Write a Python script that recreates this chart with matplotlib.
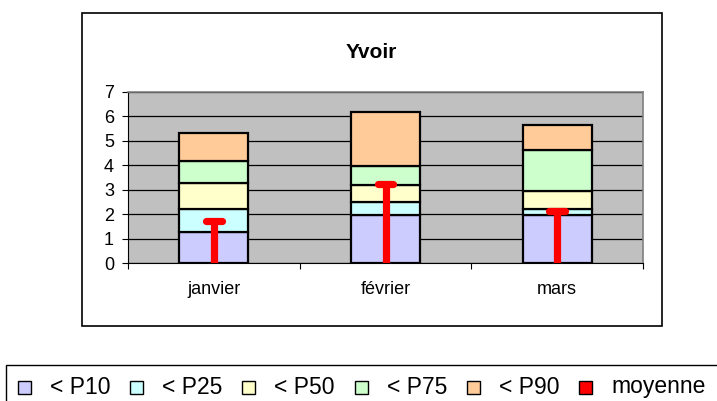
"""
Yvoir - stacked percentile bars with monthly mean
"""

import numpy as np
import matplotlib
matplotlib.use('Agg')
import matplotlib.pyplot as plt
from matplotlib.patches import Rectangle

plt.rcParams['font.family'] = ['Liberation Sans', 'DejaVu Sans']

# Data (percentile boundaries per month)
months = ['janvier', 'février', 'mars']
p10 = [1.28, 1.95, 1.97]
p25 = [2.20, 2.50, 2.23]
p50 = [3.27, 3.18, 2.96]
p75 = [4.18, 3.97, 4.63]
p90 = [5.31, 6.17, 5.64]
mean = [1.73, 3.24, 2.14]

labels = ['< P10', '< P25', '< P50', '< P75', '< P90']
colors = ['#CCCCFF', '#CCFFFF', '#FFFFCC', '#CCFFCC', '#FFCC99']

W, H = 717, 401
fig = plt.figure(figsize=(W / 100, H / 100), dpi=100)

# outer chart frame
fig.patches.append(Rectangle((82 / W, 75 / H), 580 / W, 313 / H,
                             transform=fig.transFigure, fill=False,
                             edgecolor='black', linewidth=1.2))

ax = fig.add_axes([128 / W, 138 / H, 515 / W, 171 / H])
ax.set_facecolor('#C0C0C0')

x = np.arange(len(months))
bounds = [p10, p25, p50, p75, p90]
bottom = np.zeros(len(months))
for vals, col, lab in zip(bounds, colors, labels):
    h = np.array(vals) - bottom
    ax.bar(x, h, bottom=bottom, width=0.4, color=col, edgecolor='black',
           linewidth=1.6, label=lab, zorder=3)
    bottom = np.array(vals)

# mean as red "T" marker
ax.vlines(x, 0, mean, color='#FF0000', linewidth=5.2, zorder=4)
ax.hlines(mean, x - 0.045, x + 0.045, color='#FF0000', linewidth=5.2,
          capstyle='round', zorder=4)

ax.set_xlim(-0.5, 2.5)
ax.set_ylim(0, 7)
ax.set_yticks(range(0, 8))
ax.yaxis.grid(True, color='black', linewidth=0.9, zorder=1)
ax.set_axisbelow(True)
ax.tick_params(axis='y', labelsize=13, length=4, width=0.8, pad=6)

ax.set_xticks([-0.5, 0.5, 1.5, 2.5])
ax.set_xticklabels([])
ax.set_xticks(x, minor=True)
ax.set_xticklabels(months, minor=True)
ax.tick_params(axis='x', which='major', length=4, width=0.8)
ax.tick_params(axis='x', which='minor', length=0, labelsize=13, pad=13)

for side in ['top', 'right']:
    ax.spines[side].set_color('#808080')
    ax.spines[side].set_linewidth(1.2)
ax.spines['left'].set_color('black')
ax.spines['bottom'].set_color('black')

fig.text(371 / W, (H - 52) / H, 'Yvoir', ha='center', va='center',
         fontsize=15, fontweight='bold')

# legend box running off the right edge, entries placed by hand
fig.patches.append(Rectangle((6 / W, -0.05), 1.0, (H - 365) / H + 0.05,
                             transform=fig.transFigure, fill=False,
                             edgecolor='black', linewidth=1.0))
leg_labels = labels + ['moyenne']
leg_colors = colors + ['#FF0000']
for i, (lab, col) in enumerate(zip(leg_labels, leg_colors)):
    x0 = 18 + i * 112.2
    fig.patches.append(Rectangle((x0 / W, (H - 393.5) / H), 13 / W, 13 / H,
                                 transform=fig.transFigure, facecolor=col,
                                 edgecolor='black', linewidth=1.0))
    fig.text((x0 + 32) / W, (H - 387) / H, lab, ha='left', va='center',
             fontsize=16.5)

plt.savefig('out.png', dpi=100)
plt.close()
